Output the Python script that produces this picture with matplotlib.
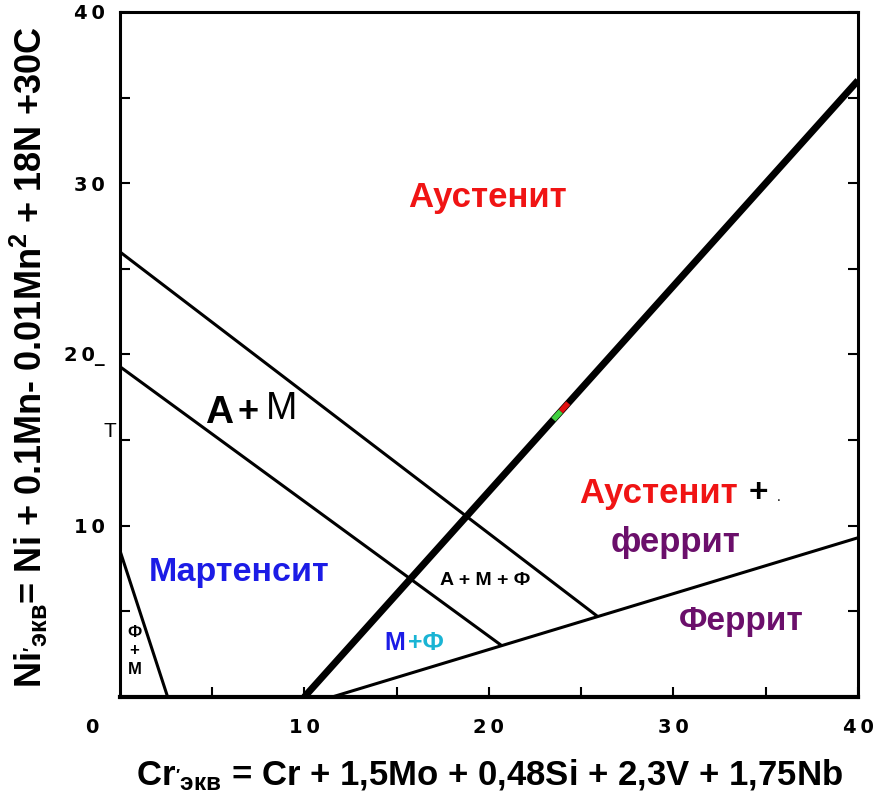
import matplotlib
matplotlib.use("Agg")
import matplotlib.pyplot as plt

plt.rcParams['font.family'] = ['Liberation Sans', 'DejaVu Sans']
plt.rcParams['mathtext.default'] = 'regular'

# Линии диаграммы Шеффлера (Cr экв, Ni экв)
cr_af = [10, 40]          # граница Аустенит / Аустенит + феррит
ni_af = [0, 36]
cr_am = [0, 25.9]         # граница Аустенит / A+M
ni_am = [26, 4.7]
cr_m = [0, 20.7]          # граница A+M / Мартенсит
ni_m = [19.3, 3.0]
cr_f = [11.5, 40]         # граница феррита
ni_f = [0, 9.3]
cr_fm = [0, 2.6]          # граница Ф+M
ni_fm = [8.6, 0]

# маленькие цветные пометки на толстой линии
cr_mark_g = [23.5, 23.9]
ni_mark_g = [16.2, 16.68]
cr_mark_r = [23.9, 24.3]
ni_mark_r = [16.68, 17.16]

ticks = [10, 20, 30, 40]
tick_labels_x = ['1\u20090', '2\u20090', '3\u20090', '4\u20090']
tick_labels_y = ['1\u20090', '2\u20090_', '3\u20090', '4\u20090']
minor_ticks = [5, 15, 25, 35]

red = '#f01414'
blue = '#1c1ce6'
purple = '#6b0f6b'
cyan = '#1ab4d4'

fig = plt.figure(figsize=(8.8, 7.93), dpi=100)
ax = fig.add_axes([0.136, 0.121, 0.839, 0.864])

ax.plot(cr_af, ni_af, color='black', lw=5, solid_capstyle='butt')
ax.plot(cr_am, ni_am, color='black', lw=2.2, solid_capstyle='butt')
ax.plot(cr_m, ni_m, color='black', lw=2.2, solid_capstyle='butt')
ax.plot(cr_f, ni_f, color='black', lw=2.2, solid_capstyle='butt')
ax.plot(cr_fm, ni_fm, color='black', lw=2.2, solid_capstyle='butt')
ax.plot(cr_mark_g, ni_mark_g, color='#40d040', lw=4, solid_capstyle='butt')
ax.plot(cr_mark_r, ni_mark_r, color='#e01010', lw=4, solid_capstyle='butt')

ax.set_xlim(0, 40)
ax.set_ylim(0, 40)

for side in ['left', 'right', 'top']:
    ax.spines[side].set_linewidth(2.2)
ax.spines['bottom'].set_linewidth(3)

ax.set_xticks(ticks)
ax.set_xticklabels(tick_labels_x)
ax.set_yticks(ticks)
ax.set_yticklabels(tick_labels_y)
ax.set_xticks(minor_ticks, minor=True)
ax.set_yticks(minor_ticks, minor=True)
ax.tick_params(which='both', direction='in', length=7, width=1.5, right=True)
ax.tick_params(axis='x', pad=15)
ax.tick_params(axis='y', pad=11)
for lab in ax.get_xticklabels() + ax.get_yticklabels():
    lab.set_fontfamily('DejaVu Sans')
    lab.set_fontweight('bold')
    lab.set_fontsize(14)

ax.text(-1.5, -1.75, '0', fontfamily='DejaVu Sans', fontweight='bold', fontsize=14,
        ha='center', va='center', clip_on=False)
ax.text(-0.55, 15.5, 'T', fontsize=15, ha='center', va='center', clip_on=False)

ax.set_xlabel(r"Cr$_{'экв}$ = Cr + 1,5Mo + 0,48Si + 2,3V + 1,75Nb",
              fontsize=25, fontweight='bold')
ax.set_ylabel(r"Ni$_{'экв}$= Ni + 0.1Mn- 0.01Mn$^2$ + 18N +30C",
              fontsize=26, fontweight='bold')
ax.xaxis.set_label_coords(0.501, -0.089)
ax.yaxis.set_label_coords(-0.095, 0.496)

# Надписи областей
ax.text(19.95, 29.15, 'Аустенит', color=red, fontsize=25, fontweight='bold',
        ha='center', va='center')
ax.text(29.2, 11.9, 'Аустенит', color=red, fontsize=25, fontweight='bold',
        ha='center', va='center')
ax.text(34.6, 11.9, '+', color='black', fontsize=24, fontweight='bold',
        ha='center', va='center')
ax.text(35.7, 11.7, '.', color='black', fontsize=10, ha='center', va='center')
ax.text(30.1, 9.0, 'феррит', color=purple, fontsize=25, fontweight='bold',
        ha='center', va='center')
ax.text(33.7, 4.4, 'Феррит', color=purple, fontsize=24, fontweight='bold',
        ha='center', va='center')
ax.text(6.45, 7.25, 'Мартенсит', color=blue, fontsize=24.5, fontweight='bold',
        ha='center', va='center')
ax.text(14.9, 3.15, 'M', color=blue, fontsize=18, fontweight='bold',
        ha='center', va='center')
ax.text(16.6, 3.15, '+Ф', color=cyan, fontsize=18, fontweight='bold',
        ha='center', va='center')
ax.text(19.8, 6.8, 'A + M + Ф', color='black', fontsize=14, fontweight='bold',
        ha='center', va='center')
ax.text(0.8, 2.7, 'Ф\n+\nM', color='black', fontsize=12, fontweight='bold',
        ha='center', va='center', linespacing=1.3)
ax.text(5.37, 16.6, 'A', color='black', fontsize=28, fontweight='bold',
        ha='center', va='center')
ax.text(6.95, 16.6, '+', color='black', fontsize=26, fontweight='bold',
        ha='center', va='center')
ax.text(8.75, 16.8, 'M', color='black', fontsize=27, ha='center', va='center')

fig.savefig('out.png', dpi=100)
